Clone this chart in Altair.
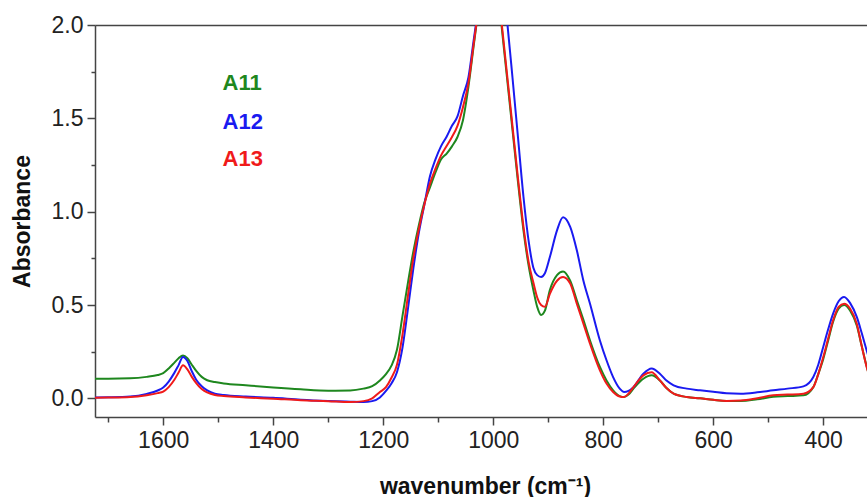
import altair as alt
import pandas as pd

# ---- data ----
wavenumber = [1724, 1700, 1660, 1630, 1610, 1600, 1590, 1580, 1572, 1564, 1556, 1548, 1540, 1530,
              1520, 1506, 1490, 1450, 1400, 1350, 1300, 1260, 1236, 1220, 1206, 1195, 1185, 1175,
              1165, 1155, 1145, 1135, 1125, 1115, 1105, 1095, 1085, 1075, 1065, 1055, 1045, 1035,
              1025, 1015, 1005, 995, 985, 975, 965, 955, 945, 935, 927, 920, 913, 906, 897, 884,
              873, 860, 848, 836, 824, 806, 794, 782, 770, 762, 754, 745, 727, 712, 697, 685, 672,
              648, 624, 600, 576, 550, 520, 491, 465, 436, 418, 409, 400, 391, 382, 372, 362, 351,
              339, 330, 321, 312]

a11 = [0.105, 0.105, 0.107, 0.115, 0.125, 0.135, 0.16, 0.19, 0.215, 0.23, 0.215, 0.18, 0.147, 0.115,
       0.097, 0.087, 0.08, 0.07, 0.058, 0.048, 0.041, 0.042, 0.052, 0.065, 0.096, 0.13, 0.175, 0.26,
       0.44, 0.62, 0.79, 0.93, 1.05, 1.13, 1.21, 1.28, 1.31, 1.35, 1.40, 1.49, 1.67, 1.90,
       2.12, 2.3, 2.4, 2.3, 2.0, 1.72, 1.44, 1.16, 0.90, 0.70, 0.58, 0.49, 0.447, 0.47, 0.58, 0.66,
       0.68, 0.63, 0.525, 0.42, 0.31, 0.168, 0.096, 0.043, 0.012, 0.007, 0.02, 0.052, 0.105, 0.123,
       0.096, 0.055, 0.025, 0.007, 0.0, -0.008, -0.014, -0.014, -0.005, 0.008, 0.012, 0.016, 0.06,
       0.13, 0.21, 0.31, 0.41, 0.48, 0.50, 0.47, 0.39, 0.28, 0.17, 0.08]

a12 = [0.005, 0.006, 0.01, 0.024, 0.042, 0.058, 0.09, 0.135, 0.178, 0.222, 0.2, 0.145, 0.1, 0.065,
       0.043, 0.025, 0.018, 0.01, 0.003, -0.007, -0.014, -0.018, -0.02, -0.015, 0.005, 0.04, 0.08, 0.14,
       0.27, 0.48, 0.70, 0.89, 1.04, 1.19, 1.28, 1.35, 1.40, 1.46, 1.51, 1.62, 1.72, 1.93,
       2.13, 2.3, 2.4, 2.45, 2.3, 2.03, 1.72, 1.40, 1.08, 0.83, 0.70, 0.66, 0.65, 0.67, 0.757, 0.90,
       0.97, 0.918, 0.793, 0.63, 0.507, 0.31, 0.204, 0.114, 0.052, 0.034, 0.04, 0.06, 0.132, 0.16,
       0.132, 0.095, 0.07, 0.052, 0.043, 0.035, 0.027, 0.025, 0.032, 0.043, 0.052, 0.064, 0.114,
       0.18, 0.275, 0.37, 0.454, 0.52, 0.543, 0.51, 0.436, 0.35, 0.257, 0.17]

a13 = [0.003, 0.004, 0.007, 0.017, 0.028, 0.036, 0.06, 0.098, 0.138, 0.177, 0.155, 0.115, 0.082, 0.05,
       0.032, 0.018, 0.012, 0.005, -0.002, -0.01, -0.015, -0.02, -0.015, 0.0, 0.034, 0.06, 0.11, 0.18,
       0.34, 0.55, 0.755, 0.91, 1.04, 1.15, 1.23, 1.30, 1.35, 1.40, 1.46, 1.56, 1.69, 1.91,
       2.12, 2.3, 2.4, 2.3, 2.02, 1.74, 1.46, 1.18, 0.92, 0.72, 0.62, 0.54, 0.50, 0.49, 0.56, 0.63,
       0.65, 0.615, 0.507, 0.40, 0.293, 0.15, 0.079, 0.034, 0.01, 0.007, 0.025, 0.06, 0.123, 0.14,
       0.096, 0.055, 0.025, 0.007, 0.0, -0.008, -0.014, -0.012, 0.0, 0.016, 0.02, 0.025, 0.06,
       0.13, 0.22, 0.32, 0.418, 0.49, 0.507, 0.48, 0.40, 0.28, 0.168, 0.08]

series_names = ["A11", "A12", "A13"]
series_colors = ["#1e871e", "#1a1af0", "#f01a1a"]

label_wn = [1492, 1492, 1492]
label_abs = [1.69, 1.48, 1.28]

FONT = "Liberation Sans"

rows = []
for name, vals in zip(series_names, [a11, a12, a13]):
    for w, v in zip(wavenumber, vals):
        rows.append({"wn": w, "A": v, "sample": name})
df = pd.DataFrame(rows)
labels = pd.DataFrame({"wn": label_wn, "A": label_abs, "sample": series_names})

xscale = alt.Scale(domain=[320.4, 1724], reverse=True, nice=False, zero=False)
yscale = alt.Scale(domain=[-0.1, 2.0], nice=False, zero=False)
cscale = alt.Scale(domain=series_names, range=series_colors)

x_major = "datum.value % 200 == 0"
y_major = "datum.value * 2 % 1 == 0"

lines = alt.Chart(df).mark_line(clip=True, strokeWidth=2, interpolate="monotone").encode(
    x=alt.X("wn:Q", scale=xscale,
            axis=alt.Axis(values=list(range(400, 1701, 100)), format="d",
                          labelExpr=f"{x_major} ? datum.label : ''",
                          tickSize={"condition": {"test": x_major, "value": 8}, "value": 5},
                          title="wavenumber (cm⁻¹)", titleX=390, titleY=69,
                          titleBaseline="middle", titleAlign="center",
                          labelPadding=4, orient="bottom")),
    y=alt.Y("A:Q", scale=yscale,
            axis=alt.Axis(values=[0, 0.25, 0.5, 0.75, 1.0, 1.25, 1.5, 1.75, 2.0], format=".1f",
                          labelExpr=f"{y_major} ? datum.label : ''",
                          tickSize={"condition": {"test": y_major, "value": 8}, "value": 4},
                          title="Absorbance", titleX=-73, titleY=196, titleAngle=-90,
                          titleBaseline="middle", titleAlign="center", labelPadding=4)),
    color=alt.Color("sample:N", scale=cscale, legend=None),
    detail="sample:N",
)

texts = alt.Chart(labels).mark_text(align="left", baseline="middle", font=FONT,
                                    fontSize=22, fontWeight="bold").encode(
    x=alt.X("wn:Q", scale=xscale,
            axis=alt.Axis(orient="top", labels=False, ticks=False, title=None, domain=True)),
    y=alt.Y("A:Q", scale=yscale),
    color=alt.Color("sample:N", scale=cscale, legend=None),
    text="sample:N",
)

chart = alt.layer(lines, texts).resolve_axis(x="independent").properties(
    width=772, height=392,
    autosize=alt.AutoSizeParams(type="none"),
    padding={"left": 95, "top": 25, "right": 0, "bottom": 80},
).configure_view(stroke=None).configure_axis(
    grid=False, domainColor="#444444", domainWidth=1.5, tickColor="#444444", tickWidth=1.5,
    labelColor="#222222", labelFont=FONT, labelFontSize=23,
    titleFont=FONT, titleFontSize=23, titleFontWeight="bold", titleColor="#111111",
)

chart.save("out.html", embed_options={"renderer": "svg", "actions": False})
